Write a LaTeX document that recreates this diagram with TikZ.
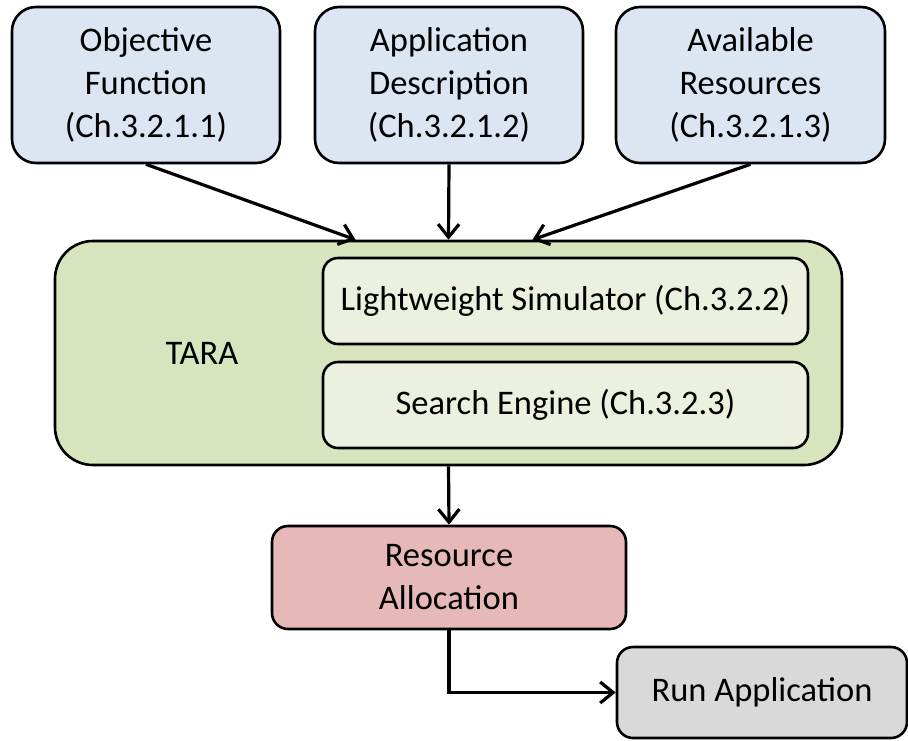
\documentclass[tikz,border=0pt]{standalone}
\usepackage{fontspec}
\setmainfont{Carlito}
\usetikzlibrary{arrows.meta,calc}
\definecolor{cblue}{HTML}{DCE6F2}
\definecolor{cgreen}{HTML}{D7E4BD}
\definecolor{clight}{HTML}{EBF1DE}
\definecolor{cred}{HTML}{E6B9B8}
\definecolor{cgray}{HTML}{D9D9D9}
\tikzset{
  txt/.style={font=\fontsize{34.5}{43}\selectfont, text=black},
  box/.style={draw=black, line width=2.6pt, align=center, inner sep=0pt, txt},
  inbox/.style={box, fill=cblue, rounded corners=24pt, minimum width=268pt, minimum height=156pt},
  conn/.style={line width=3.2pt, -{Straight Barb[length=13pt,width=21pt,line width=3.2pt]}},
}
\begin{document}
\begin{tikzpicture}[x=1pt,y=-1pt]
\useasboundingbox (0,0) rectangle (908,740);
\node[inbox] (obj) at (146,85) {Objective\\Function\\(Ch.3.2.1.1)};
\node[inbox] (app) at (449,85) {Application\\Description\\(Ch.3.2.1.2)};
\node[inbox, minimum width=269pt] (avail) at (750.5,85) {Available\\Resources\\(Ch.3.2.1.3)};
\node[box, fill=cgreen, rounded corners=38pt, minimum width=787pt, minimum height=224pt] (tara) at (448.5,353) {};
\node[txt] (taralbl) at (202,353) {TARA};
\node[box, fill=clight, rounded corners=15pt, minimum width=485pt, minimum height=86pt] (sim) at (565.5,301) {Lightweight Simulator (Ch.3.2.2)};
\node[box, fill=clight, rounded corners=15pt, minimum width=485pt, minimum height=86pt] (search) at (565.5,405) {Search Engine (Ch.3.2.3)};
\node[box, fill=cred, rounded corners=16pt, minimum width=354pt, minimum height=103pt] (res) at (449,577.5) {Resource\\Allocation};
\node[box, fill=cgray, rounded corners=16pt, minimum width=290pt, minimum height=91pt] (run) at (762,692.5) {Run Application};
\draw[conn] (obj.south) -- ([xshift=-93pt]tara.north);
\draw[conn] (app.south) -- (tara.north);
\draw[conn] (avail.south) -- ([xshift=84pt]tara.north);
\draw[conn] (tara.south) -- (res.north);
\draw[conn] (res.south) |- (run.west);
\end{tikzpicture}
\end{document}
